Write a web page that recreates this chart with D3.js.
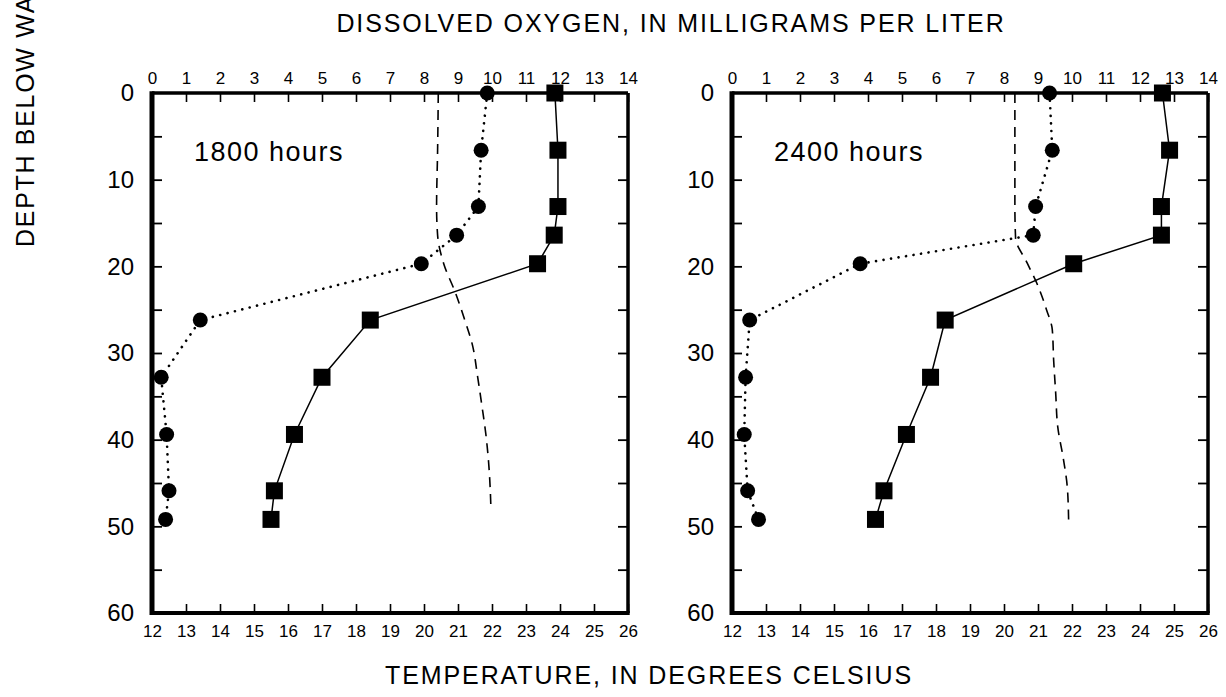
<!DOCTYPE html>
<html>
<head>
<meta charset="utf-8">
<script src="https://cdn.jsdelivr.net/npm/d3@7"></script>
<style>
  body { margin: 0; background: #fff; }
  svg text { font-family: "Liberation Sans", Arial, Helvetica, sans-serif; fill: #000; }
</style>
</head>
<body>
<svg id="chart" width="1226" height="697"></svg>
<script>
// Sampling depths, in feet (2, 4, 5, 6, 8, 10, 12, 14 and 15 meters)
const depths = [0, 6.6, 13.1, 16.4, 19.7, 26.2, 32.8, 39.4, 45.9, 49.2];

// 1800 hours profile
const oxygen1800 = [9.86, 9.68, 9.6, 8.96, 7.92, 1.42, 0.27, 0.43, 0.5, 0.4];
const temp1800 = [23.85, 23.94, 23.94, 23.83, 23.34, 18.42, 17.0, 16.19, 15.6, 15.5];
// Dissolved-oxygen saturation curve, 1800 hours
const satDepth1800 = [0, 6.6, 13.1, 16.4, 19.7, 23, 26.2, 29, 32.8, 36, 39.4, 42.6, 45.9, 48.2];
const sat1800 = [8.42, 8.4, 8.37, 8.4, 8.58, 8.92, 9.2, 9.42, 9.58, 9.7, 9.82, 9.9, 9.95, 9.97];

// 2400 hours profile
const oxygen2400 = [9.34, 9.42, 8.93, 8.86, 3.77, 0.52, 0.4, 0.36, 0.46, 0.78];
const temp2400 = [24.66, 24.87, 24.63, 24.63, 22.05, 18.27, 17.84, 17.13, 16.47, 16.22];
// Dissolved-oxygen saturation curve, 2400 hours
const satDepth2400 = [0, 6.6, 13.1, 16.7, 19.6, 21.9, 25, 27.3, 30.8, 34.6, 38.5, 42.3, 45.4, 49.2];
const sat2400 = [8.32, 8.32, 8.32, 8.34, 8.68, 8.96, 9.25, 9.42, 9.46, 9.52, 9.58, 9.75, 9.86, 9.9];

// Axis tick labels
const oxygenTicks = [0, 1, 2, 3, 4, 5, 6, 7, 8, 9, 10, 11, 12, 13, 14];
const tempTicks = [12, 13, 14, 15, 16, 17, 18, 19, 20, 21, 22, 23, 24, 25, 26];
const depthTicks = [0, 10, 20, 30, 40, 50, 60];
const depthMinorTicks = [5, 10, 15, 20, 25, 30, 35, 40, 45, 50, 55];

const panels = [
  { label: "1800 hours", left: 152, oxygen: oxygen1800, temp: temp1800, satDepth: satDepth1800, sat: sat1800 },
  { label: "2400 hours", left: 732, oxygen: oxygen2400, temp: temp2400, satDepth: satDepth2400, sat: sat2400 }
];

const svg = d3.select("#chart");
const W = 476, yTop = 93, yBottom = 613;
const FONT = "'Liberation Sans', Arial, Helvetica, sans-serif";

const y = d3.scaleLinear().domain([0, 60]).range([yTop, yBottom]);

panels.forEach(p => {
  const xO = d3.scaleLinear().domain([0, 14]).range([p.left, p.left + W]);
  const xT = d3.scaleLinear().domain([12, 26]).range([p.left, p.left + W]);
  const g = svg.append("g");

  // Top axis: dissolved oxygen
  const topAxis = g.append("g").attr("transform", `translate(0,${yTop})`)
    .call(d3.axisTop(xO).tickValues(oxygenTicks).tickSize(-9).tickPadding(9).tickFormat(d3.format("d")));
  // Bottom axis: temperature
  const botAxis = g.append("g").attr("transform", `translate(0,${yBottom})`)
    .call(d3.axisBottom(xT).tickValues(tempTicks).tickSize(-9).tickPadding(12).tickFormat(d3.format("d")));
  [topAxis, botAxis].forEach(a => {
    a.select(".domain").remove();
    a.selectAll("line").attr("stroke", "#000").attr("stroke-width", 1.6);
    a.selectAll("text").attr("font-size", 17).attr("font-family", FONT);
  });

  // Depth ticks on both sides, labels on the left
  const leftTicks = g.append("g").attr("transform", `translate(${p.left},0)`)
    .call(d3.axisLeft(y).tickValues(depthMinorTicks).tickSize(-10).tickFormat(""));
  const leftLabels = g.append("g").attr("transform", `translate(${p.left},0)`)
    .call(d3.axisLeft(y).tickValues(depthTicks).tickSize(0).tickPadding(18).tickFormat(d3.format("d")));
  const rightTicks = g.append("g").attr("transform", `translate(${p.left + W},0)`)
    .call(d3.axisRight(y).tickValues(depthMinorTicks).tickSize(-10).tickFormat(""));
  [leftTicks, leftLabels, rightTicks].forEach(a => {
    a.select(".domain").remove();
    a.selectAll("line").attr("stroke", "#000").attr("stroke-width", 1.8);
  });
  leftLabels.selectAll("text").attr("font-size", 24).attr("font-family", FONT);

  // Frame
  const x0 = p.left, x1 = p.left + W;
  g.append("line").attr("x1", x0).attr("x2", x1).attr("y1", yTop).attr("y2", yTop)
    .attr("stroke", "#000").attr("stroke-width", 3.5);
  g.append("line").attr("x1", x1).attr("x2", x1).attr("y1", yTop).attr("y2", yBottom)
    .attr("stroke", "#000").attr("stroke-width", 3.5);
  g.append("line").attr("x1", x0 - 2).attr("x2", x1 + 1.7).attr("y1", yBottom).attr("y2", yBottom)
    .attr("stroke", "#000").attr("stroke-width", 4);
  g.append("line").attr("x1", x0).attr("x2", x0).attr("y1", yTop - 1.7).attr("y2", yBottom + 2)
    .attr("stroke", "#000").attr("stroke-width", 5);

  // Saturation curve (dashed)
  const satPts = p.satDepth.map((d, i) => [xO(p.sat[i]), y(d)]);
  g.append("path").attr("d", d3.line().curve(d3.curveMonotoneY)(satPts))
    .attr("fill", "none").attr("stroke", "#000").attr("stroke-width", 1.6)
    .attr("stroke-dasharray", "10,7");

  // Dissolved oxygen profile (dotted)
  const oxPts = depths.map((d, i) => [xO(p.oxygen[i]), y(d)]);
  g.append("path").attr("d", d3.line()(oxPts))
    .attr("fill", "none").attr("stroke", "#000").attr("stroke-width", 2.6)
    .attr("stroke-linecap", "round").attr("stroke-dasharray", "0.1,7.5");

  // Temperature profile (solid)
  const tPts = depths.map((d, i) => [xT(p.temp[i]), y(d)]);
  g.append("path").attr("d", d3.line()(tPts))
    .attr("fill", "none").attr("stroke", "#000").attr("stroke-width", 1.5);

  g.selectAll("circle.ox").data(oxPts).join("circle")
    .attr("class", "ox").attr("cx", d => d[0]).attr("cy", d => d[1]).attr("r", 7.5)
    .attr("fill", "#000");
  g.selectAll("rect.tp").data(tPts).join("rect")
    .attr("class", "tp").attr("x", d => d[0] - 8.5).attr("y", d => d[1] - 8.5)
    .attr("width", 17).attr("height", 17).attr("fill", "#000");

  g.append("text").attr("x", p.left + 42).attr("y", 161)
    .attr("font-size", 27).attr("letter-spacing", 1.5).text(p.label);
});

// Axis titles
svg.append("text").attr("x", 671).attr("y", 32).attr("text-anchor", "middle")
  .attr("font-size", 25).attr("letter-spacing", 1.9).text("DISSOLVED OXYGEN, IN MILLIGRAMS PER LITER");
svg.append("text").attr("x", 649).attr("y", 684).attr("text-anchor", "middle")
  .attr("font-size", 25).attr("letter-spacing", 1.9).text("TEMPERATURE, IN DEGREES CELSIUS");
svg.append("text").attr("transform", "translate(34,247) rotate(-90)")
  .attr("font-size", 25).attr("letter-spacing", 1.7).text("DEPTH BELOW WATER SURFACE, IN FEET");
</script>
</body>
</html>
